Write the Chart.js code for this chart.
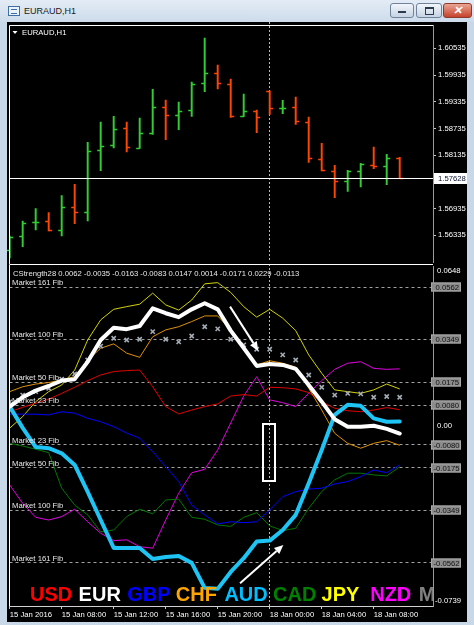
<!DOCTYPE html>
<html>
<head>
<meta charset="utf-8">
<script src="https://cdn.jsdelivr.net/npm/chart.js@4.4.1/dist/chart.umd.min.js"></script>
<style>
html,body{margin:0;padding:0;}
body{width:474px;height:625px;overflow:hidden;background:#c9d8e9;position:relative;font-family:"Liberation Sans",Arial,sans-serif;}
#titlebar{position:absolute;left:0;top:0;width:474px;height:22px;background:linear-gradient(#e3ecf6,#cddbeb);}
#icon{position:absolute;left:8px;top:6px;width:10px;height:8px;border:1px solid #3f6ea6;background:#eaf2fb;}
#icon i{position:absolute;left:2px;top:2px;width:6px;height:3px;border-top:1px solid #3f6ea6;border-bottom:1px solid #3f6ea6;}
#ttl{position:absolute;left:24px;top:6px;font-size:9px;color:#1b1b1b;}
.btn{position:absolute;top:3px;height:13px;border:1px solid #71839a;border-radius:3px;background:linear-gradient(#f2f6fb,#c6d3e3);}
#bmin{left:390px;width:22px;}
#bmax{left:416px;width:24px;}
#bcls{left:443px;width:27px;background:linear-gradient(#eaa595,#c6432c);border-color:#8d3a2b;}
#bmin i{position:absolute;left:7px;top:7px;width:8px;height:2px;background:#2b3a4c;}
#bmax i{position:absolute;left:8px;top:3px;width:7px;height:5px;border:1px solid #2b3a4c;border-top-width:2px;}
#bcls i{position:absolute;left:9px;top:0px;color:#fff;font-size:11px;font-weight:bold;line-height:13px;}
#black{position:absolute;left:7px;top:22px;width:460px;height:600px;background:#000;}
canvas{position:absolute;}
#price{left:7px;top:22px;}
#ind{left:7px;top:264px;}
</style>
</head>
<body>
<div id="titlebar"><div id="icon"><i></i></div><div id="ttl">EURAUD,H1</div></div>
<div class="btn" id="bmin"><i></i></div>
<div class="btn" id="bmax"><i></i></div>
<div class="btn" id="bcls"><i>&#x2715;</i></div>
<div id="black"></div>
<canvas id="price" width="460" height="242"></canvas>
<canvas id="ind" width="460" height="358"></canvas>
<script>
// EURAUD H1, bars from 15 Jan 04:00 to 18 Jan 10:00
const opens  = [1.56002,1.56317,1.56632,1.56647,1.56459,1.56969,1.56856,1.58250,1.58369,1.58737,1.58301,1.58632,1.59223,1.59043,1.59155,1.59762,1.59973,1.59739,1.59007,1.59133,1.59569,1.59200,1.59209,1.58886,1.58054,1.57778,1.57553,1.57784,1.57919,1.57897,1.58070];
const highs  = [1.56317,1.56654,1.56931,1.56841,1.57223,1.57479,1.58423,1.58879,1.59007,1.58879,1.58969,1.59614,1.59373,1.59328,1.59778,1.60766,1.60160,1.59845,1.59508,1.59148,1.59582,1.59366,1.59441,1.58991,1.58400,1.57906,1.57793,1.57951,1.58317,1.58153,1.58086];
const lows   = [1.55823,1.56077,1.56452,1.56429,1.56317,1.56593,1.56654,1.57784,1.58295,1.58205,1.58288,1.58602,1.58481,1.58706,1.59007,1.59560,1.59620,1.58984,1.58998,1.58638,1.59052,1.59065,1.58827,1.57973,1.57778,1.57178,1.57321,1.57418,1.57829,1.57470,1.57628];
const closes = [1.56301,1.56616,1.56635,1.56459,1.56969,1.56856,1.58227,1.58346,1.58722,1.58317,1.58625,1.59223,1.59043,1.59133,1.59739,1.59973,1.59762,1.59007,1.59133,1.58991,1.59193,1.59202,1.58908,1.58070,1.57793,1.57560,1.57778,1.57935,1.57897,1.58077,1.57628];
const lastPrice = 1.57628;
const priceTicks = [1.60535,1.59935,1.59335,1.58735,1.58135,1.57535,1.56935,1.56335];

// CStrength28 lines
const usd = [0.0054,0.0072,0.0089,0.0105,0.0129,0.0154,0.0181,0.0204,0.0218,0.0222,0.0224,0.0156,0.0075,0.0045,0.0061,0.0075,0.0086,0.0118,0.0124,0.0118,0.0154,0.0152,0.0147,0.0132,0.0095,0.0068,0.0058,0.0054,0.0061,0.0071,0.0062];
const eur = [0.0075,0.0113,0.0140,0.0159,0.0181,0.0187,0.0258,0.0347,0.0397,0.0391,0.0404,0.0476,0.0456,0.0440,0.0472,0.0497,0.0472,0.0385,0.0314,0.0241,0.0249,0.0245,0.0229,0.0163,0.0095,0.0023,-0.0007,-0.0007,-0.0003,-0.0016,-0.0035];
const gbp = [0.0044,0.0044,0.0044,0.0041,0.0054,0.0048,0.0027,0.0013,-0.0007,-0.0033,-0.0054,-0.0109,-0.0170,-0.0231,-0.0327,-0.0367,-0.0404,-0.0395,-0.0399,-0.0395,-0.0347,-0.0293,-0.0272,-0.0262,-0.0258,-0.0241,-0.0231,-0.0211,-0.0184,-0.0195,-0.0163];
const chf = [0.0136,0.0156,0.0167,0.0173,0.0184,0.0197,0.0265,0.0313,0.0331,0.0293,0.0276,0.0360,0.0388,0.0401,0.0422,0.0445,0.0445,0.0388,0.0317,0.0245,0.0262,0.0252,0.0236,0.0150,0.0061,-0.0034,-0.0075,-0.0095,-0.0075,-0.0064,-0.0083];
const aud = [0.0075,-0.0012,-0.0090,-0.0095,-0.0116,-0.0163,-0.0273,-0.0388,-0.0502,-0.0502,-0.0502,-0.0547,-0.0539,-0.0535,-0.0563,-0.0665,-0.0669,-0.0600,-0.0544,-0.0476,-0.0472,-0.0429,-0.0367,-0.0238,-0.0102,0.0041,0.0082,0.0078,0.0027,0.0013,0.0014];
const cad = [-0.0075,-0.0086,-0.0099,-0.0113,-0.0258,-0.0327,-0.0367,-0.0436,-0.0429,-0.0374,-0.0344,-0.0363,-0.0306,-0.0303,-0.0377,-0.0385,-0.0408,-0.0414,-0.0377,-0.0358,-0.0412,-0.0431,-0.0422,-0.0340,-0.0272,-0.0224,-0.0197,-0.0197,-0.0204,-0.0208,-0.0171];
const jpy = [-0.0013,0.0034,0.0095,0.0136,0.0163,0.0224,0.0347,0.0429,0.0472,0.0483,0.0493,0.0538,0.0490,0.0469,0.0510,0.0576,0.0581,0.0541,0.0483,0.0440,0.0472,0.0436,0.0385,0.0286,0.0211,0.0143,0.0136,0.0129,0.0143,0.0167,0.0147];
const nzd = [-0.0245,-0.0320,-0.0377,-0.0388,-0.0374,-0.0344,-0.0395,-0.0442,-0.0472,-0.0469,-0.0497,-0.0503,-0.0388,-0.0279,-0.0195,-0.0181,-0.0102,0.0008,0.0118,0.0197,0.0102,0.0091,0.0075,0.0129,0.0181,0.0227,0.0252,0.0258,0.0231,0.0227,0.0229];
const mkt = [0.0094,0.0122,0.0136,0.0150,0.0187,0.0208,0.0265,0.0322,0.0354,0.0347,0.0350,0.0381,0.0350,0.0339,0.0363,0.0401,0.0392,0.0350,0.0327,0.0309,0.0309,0.0286,0.0265,0.0204,0.0154,0.0122,0.0129,0.0127,0.0113,0.0116,0.0113];
const headerValues = ['0.0062','-0.0035','-0.0163','-0.0083','0.0147','0.0014','-0.0171','0.0229','-0.0113'];

const fibLevels = [0.0562,0.0349,0.0175,0.0080,-0.0080,-0.0175,-0.0349,-0.0562];
const fibNames  = ['161','100','50','23','23','50','100','161'];
const indMax = 0.0648, indMin = -0.0739;

const currencies = ['USD','EUR','GBP','CHF','AUD','CAD','JPY','NZD','M'];
const timeTickIdx = [0,4,8,12,16,20,24,28];
const timeTickLabels = ['15 Jan 2016','15 Jan 08:00','15 Jan 12:00','15 Jan 16:00','15 Jan 20:00','18 Jan 00:00','18 Jan 04:00','18 Jan 08:00'];
const separatorIdx = 19.93;
// drawn objects, in (bar index, value) units
const arrowDown = [16.95, 0.0483, 19.12, 0.0303];
const arrowUp   = [17.72, -0.0646, 21.05, -0.0490];
const markBox   = [19.5, 0.0004, 20.4, -0.0229];

const FONT = '"Liberation Sans", Arial, sans-serif';
const SMALL = 7.7;
const UP = '#32cd32', DOWN = '#ff4500';
const colors = {USD:'#ff0000',EUR:'#ffffff',GBP:'#0000ff',CHF:'#ffa500',AUD:'#00bfff',CAD:'#008000',JPY:'#ffff00',NZD:'#ff00ff',M:'#808080'};
const xMin = -0.015, xMax = 32.56;

const pts = arr => arr.map((v, i) => ({x: i, y: v}));

// ---------- price panel ----------
const ohlcTicks = {
  id: 'ohlcTicks',
  afterDatasetsDraw(chart) {
    const {ctx, scales: {x, y}} = chart;
    ctx.save();
    ctx.lineWidth = 1.3;
    for (let i = 0; i < opens.length; i++) {
      const px = x.getPixelForValue(i);
      const yo = Math.round(y.getPixelForValue(opens[i])) + 0.5;
      const yc = Math.round(y.getPixelForValue(closes[i])) + 0.5;
      ctx.strokeStyle = closes[i] >= opens[i] ? UP : DOWN;
      ctx.beginPath();
      ctx.moveTo(px - 3.5, yo); ctx.lineTo(px, yo);
      ctx.moveTo(px, yc); ctx.lineTo(px + 3.5, yc);
      ctx.stroke();
    }
    ctx.restore();
  }
};

const priceLine = {
  id: 'priceLine',
  afterDraw(chart) {
    const {ctx, chartArea: a, scales: {y}} = chart;
    const py = Math.round(y.getPixelForValue(lastPrice)) + 0.5;
    ctx.save();
    ctx.strokeStyle = '#ffffff';
    ctx.lineWidth = 1;
    ctx.beginPath(); ctx.moveTo(a.left, py); ctx.lineTo(a.right, py); ctx.stroke();
    ctx.fillStyle = '#ffffff';
    ctx.fillRect(a.right + 1, py - 5.5, 34, 11);
    ctx.fillStyle = '#0a1030';
    ctx.font = SMALL + 'px ' + FONT;
    ctx.textBaseline = 'middle';
    ctx.fillText(lastPrice.toFixed(5), a.right + 5, py + 0.5);
    // title
    ctx.fillStyle = '#ffffff';
    ctx.beginPath(); ctx.moveTo(a.left + 3, 9); ctx.lineTo(a.left + 8, 9); ctx.lineTo(a.left + 5.5, 12); ctx.closePath(); ctx.fill();
    ctx.fillText('EURAUD,H1', a.left + 12.5, 10.5);
    ctx.restore();
  }
};

const frame = {
  id: 'frame',
  afterDraw(chart, args, opts) {
    const {ctx, chartArea: a} = chart;
    ctx.save();
    ctx.strokeStyle = '#ffffff';
    ctx.lineWidth = 1;
    ctx.beginPath();
    ctx.moveTo(Math.floor(a.left) + 0.5, opts.bottom === undefined ? a.bottom : opts.bottom);
    ctx.lineTo(Math.floor(a.left) + 0.5, opts.top + 0.5);
    ctx.lineTo(a.right, opts.top + 0.5);
    ctx.stroke();
    ctx.restore();
  }
};

const vsep = {
  id: 'vsep',
  beforeDatasetsDraw(chart) {
    const {ctx, chartArea: a, scales: {x}} = chart;
    const px = Math.round(x.getPixelForValue(separatorIdx)) + 0.5;
    ctx.save();
    ctx.strokeStyle = '#b8b8b8';
    ctx.lineWidth = 1;
    ctx.setLineDash([2, 2]);
    ctx.beginPath(); ctx.moveTo(px, 0); ctx.lineTo(px, a.bottom); ctx.stroke();
    ctx.restore();
  }
};

new Chart(document.getElementById('price'), {
  type: 'bar',
  data: {
    datasets: [{
      data: highs.map((h, i) => ({x: i, y: [lows[i], h]})),
      backgroundColor: closes.map((c, i) => c >= opens[i] ? UP : DOWN),
      barThickness: 1.3,
      borderWidth: 0
    }]
  },
  options: {
    responsive: false, animation: false, devicePixelRatio: 1,
    layout: {autoPadding: false, padding: {left: 2.5, top: 3, right: 0, bottom: 2}},
    plugins: {legend: {display: false}, tooltip: {enabled: false}, frame: {top: 3, bottom: 242}},
    scales: {
      x: {type: 'linear', min: xMin, max: xMax, display: false, offset: false},
      y: {
        position: 'right', min: 1.55733, max: 1.61059,
        afterBuildTicks: s => { s.ticks = priceTicks.map(v => ({value: v})); },
        afterFit: s => { s.width = 34; s.paddingTop = 0; s.paddingBottom = 0; },
        ticks: {color: '#ffffff', font: {family: FONT, size: SMALL}, padding: 2, callback: v => v.toFixed(5)},
        grid: {drawOnChartArea: false, tickLength: 3, color: '#c8c8c8'},
        border: {color: '#9a9a9a'}
      }
    }
  },
  plugins: [vsep, ohlcTicks, priceLine, frame]
});

// ---------- indicator panel ----------
function arrow(ctx, x, y, a) {
  const x1 = x.getPixelForValue(a[0]), y1 = y.getPixelForValue(a[1]);
  const x2 = x.getPixelForValue(a[2]), y2 = y.getPixelForValue(a[3]);
  const ang = Math.atan2(y2 - y1, x2 - x1);
  const hl = 9, hw = 4;
  const bx = x2 - hl * Math.cos(ang), by = y2 - hl * Math.sin(ang);
  ctx.beginPath(); ctx.moveTo(x1, y1); ctx.lineTo(bx, by); ctx.stroke();
  ctx.beginPath();
  ctx.moveTo(x2, y2);
  ctx.lineTo(bx + hw * Math.sin(ang), by - hw * Math.cos(ang));
  ctx.lineTo(bx - hw * Math.sin(ang), by + hw * Math.cos(ang));
  ctx.closePath(); ctx.fill();
}

const indDecor = {
  id: 'indDecor',
  afterDatasetsDraw(chart) {
    const {ctx, chartArea: a, scales: {x, y}} = chart;
    ctx.save();
    ctx.font = SMALL + 'px ' + FONT;
    ctx.fillStyle = '#e8e8e8';
    ctx.textBaseline = 'alphabetic';
    fibLevels.forEach((v, k) => {
      ctx.fillText('Market ' + fibNames[k] + ' Fib', a.left + 2.5, Math.round(y.getPixelForValue(v)) - 2);
    });
    ctx.textBaseline = 'middle';
    ctx.fillText('CStrength28 ' + headerValues.join(' '), a.left + 3.5, 9.5);

    // currency legend
    ctx.save();
    ctx.beginPath(); ctx.rect(a.left, a.top, a.right - a.left, a.bottom - a.top); ctx.clip();
    ctx.font = 'bold 20px ' + FONT;
    ctx.textBaseline = 'alphabetic';
    currencies.forEach((c, k) => {
      ctx.fillStyle = colors[c];
      ctx.fillText(c, a.left + 20.5 + k * 48.6, a.bottom - 5);
    });
    ctx.restore();

    // arrows and box
    ctx.strokeStyle = '#ffffff';
    ctx.fillStyle = '#ffffff';
    ctx.lineWidth = 2;
    arrow(ctx, x, y, arrowDown);
    arrow(ctx, x, y, arrowUp);
    const rx1 = x.getPixelForValue(markBox[0]), ry1 = y.getPixelForValue(markBox[1]);
    const rx2 = x.getPixelForValue(markBox[2]), ry2 = y.getPixelForValue(markBox[3]);
    ctx.strokeRect(Math.round(rx1), Math.round(ry1), Math.round(rx2 - rx1), Math.round(ry2 - ry1));

    // right axis labels
    ctx.lineWidth = 1;
    ctx.font = SMALL + 'px ' + FONT;
    ctx.textBaseline = 'middle';
    fibLevels.forEach(v => {
      const py = Math.round(y.getPixelForValue(v));
      ctx.fillStyle = '#8c8c8c';
      ctx.fillRect(a.right - 2, py - 4.5, 30, 9);
      ctx.strokeStyle = '#a8a8a8';
      ctx.strokeRect(a.right - 1.5, py - 4, 29, 8);
      ctx.fillStyle = '#111111';
      ctx.fillText(v.toFixed(4), a.right + (v < 0 ? 0.5 : 2.5), py + 0.5);
    });
    ctx.fillStyle = '#ffffff';
    ctx.fillText(indMax.toFixed(4), a.right + 4, y.getPixelForValue(indMax) + 5);
    ctx.fillText('0.00', a.right + 4, y.getPixelForValue(0) + 1);
    ctx.fillText(indMin.toFixed(4), a.right + 2, y.getPixelForValue(indMin) - 5);
    ctx.restore();
  }
};

const thin = (label, arr, color) => ({label, data: pts(arr), borderColor: color, borderWidth: 1, pointRadius: 0, tension: 0, order: 3});
const thick = (label, arr, color) => ({label, data: pts(arr), borderColor: color, borderWidth: 4, pointRadius: 0, tension: 0, order: 1, borderJoinStyle: 'round', borderCapStyle: 'round'});

new Chart(document.getElementById('ind'), {
  type: 'line',
  data: {
    datasets: [
      thin('USD', usd, '#e00000'),
      thin('GBP', gbp, '#0000ff'),
      thin('CHF', chf, '#e09000'),
      thin('CAD', cad, '#007800'),
      thin('JPY', jpy, '#d2d200'),
      thin('NZD', nzd, '#e000e0'),
      {label: 'M', data: pts(mkt), showLine: false, pointStyle: 'crossRot', pointRadius: 3, borderColor: '#a4acb4', borderWidth: 1.6, order: 2},
      thick('EUR', eur, '#ffffff'),
      thick('AUD', aud, '#1ec4f4')
    ]
  },
  options: {
    responsive: false, animation: false, devicePixelRatio: 1,
    layout: {autoPadding: false, padding: {left: 2.5, top: 2.2, right: 0, bottom: 0}},
    plugins: {legend: {display: false}, tooltip: {enabled: false}, frame: {top: 0}},
    scales: {
      x: {
        type: 'linear', min: xMin, max: xMax, offset: false,
        afterBuildTicks: s => { s.ticks = timeTickIdx.map(v => ({value: v})); },
        afterFit: s => { s.height = 16; s.paddingLeft = 0; s.paddingRight = 0; },
        ticks: {align: 'start', color: '#ffffff', font: {family: FONT, size: SMALL}, padding: 1, autoSkip: false, maxRotation: 0, minRotation: 0,
          callback: v => timeTickLabels[timeTickIdx.indexOf(v)]},
        grid: {drawOnChartArea: false, tickLength: 3, color: '#c8c8c8'},
        border: {color: '#d0d0d0'}
      },
      y: {
        position: 'right', min: indMin, max: indMax,
        afterBuildTicks: s => { s.ticks = fibLevels.map(v => ({value: v})); },
        afterFit: s => { s.width = 34; s.paddingTop = 0; s.paddingBottom = 0; },
        ticks: {display: false},
        grid: {color: '#a0a0a0', drawTicks: false},
        border: {color: '#9a9a9a', dash: [3, 3]}
      }
    }
  },
  plugins: [vsep, indDecor, frame]
});
</script>
</body>
</html>
